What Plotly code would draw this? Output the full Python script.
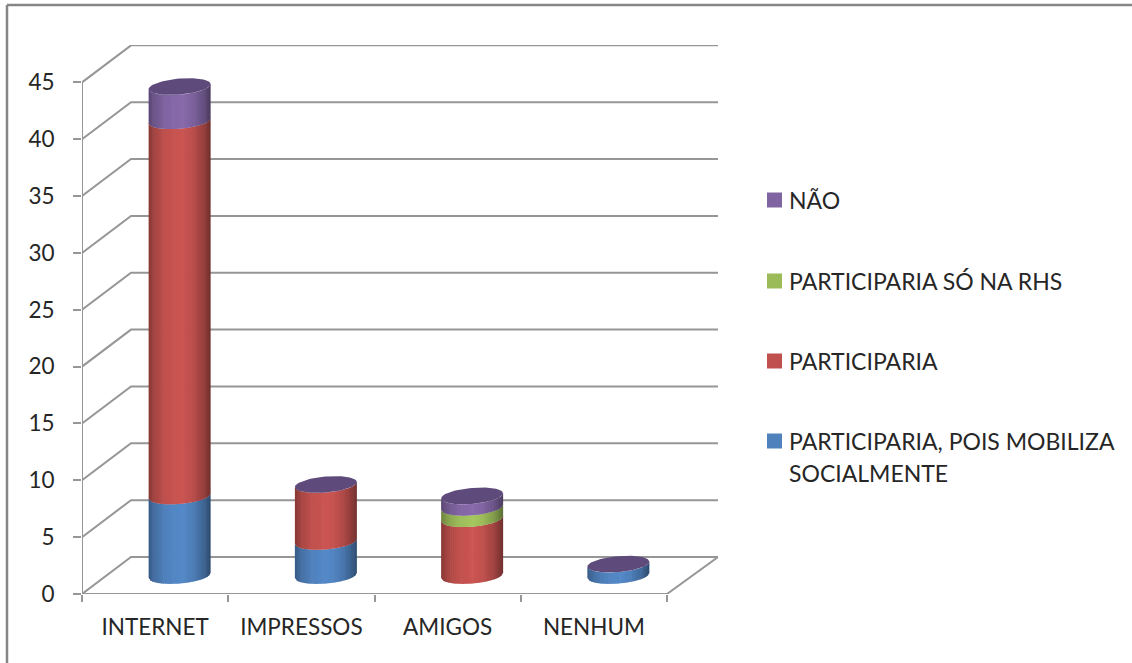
import math
import plotly.graph_objects as go

# Source data: stacked values per category, bottom series first
categories = ["INTERNET", "IMPRESSOS", "AMIGOS", "NENHUM"]
mobiliza = [7, 3, 0, 1]
participaria = [33, 5, 5, 0]
so_na_rhs = [0, 0, 1, 0]
nao = [3, 0, 1, 0]
y_ticks = [0, 5, 10, 15, 20, 25, 30, 35, 40, 45]

series_names = [["PARTICIPARIA, POIS MOBILIZA", "SOCIALMENTE"], ["PARTICIPARIA"],
                ["PARTICIPARIA SÓ NA RHS"], ["NÃO"]]
series_values = [mobiliza, participaria, so_na_rhs, nao]
series_colors = ["#4F81BD", "#C0504D", "#9BBB59", "#8064A2"]
cap_color = "#5F4A7C"
grid_color = "#969696"
text_color = "#262626"
font_family = "Lato"

W, H = 1132, 663

# Pixel frame of the pseudo-3D box
LEFT, BOTTOM = 82, 594
BACK_X, TOP = 718, 45
PX_CAT, PX_UNIT = 146.25, 11.37
DX = 49 / PX_CAT      # depth offset in category units
DY = 37 / PX_UNIT     # depth offset in value units
x_max = (BACK_X - LEFT) / PX_CAT
y_max = (BOTTOM - TOP) / PX_UNIT
n_cat = len(categories)

# Cylinder proportions in axis units
RX = 31 / PX_CAT
RY = 8 / PX_UNIT
SKEW = 2.5 / PX_UNIT
STRIPS = 34

# Legend block layout, in page pixels, bottom entry first
LEGEND_SWATCH_X = (767, 782)
LEGEND_TEXT_X = 789
LEGEND_ROWS = [441, 361, 281, 200]
LEGEND_LINE_STEP = 32
LEGEND_SWATCH_HALF = 7.5


def shade(hex_color, k):
    r, g, b = (int(hex_color[i:i + 2], 16) for i in (1, 3, 5))
    return "rgb({},{},{})".format(*(min(255, round(c * k)) for c in (r, g, b)))


def brightness(u):
    # Rounded-surface shading across the cylinder, u runs from -1 to 1
    stops = [(-1, 0.70), (-0.8, 0.86), (-0.45, 1.0), (0.05, 1.06),
             (0.4, 0.98), (0.75, 0.80), (1, 0.58)]
    for (u0, k0), (u1, k1) in zip(stops, stops[1:]):
        if u <= u1:
            return k0 + (k1 - k0) * (u - u0) / (u1 - u0)
    return stops[-1][1]


def front_arc(value, u):
    return value - RY * math.sqrt(max(0, 1 - u * u)) + SKEW * u


fig = go.Figure()


def add_line(xs, ys):
    fig.add_trace(go.Scatter(x=xs, y=ys, mode="lines", showlegend=False, hoverinfo="skip",
                             line=dict(color=grid_color, width=2)))


# Gridlines: up the side wall, then across the back wall
for v in y_ticks:
    add_line([0, DX, x_max], [v, v + DY, v + DY])
# Floor edges and the vertical axis
add_line([0, n_cat, x_max], [0, 0, DY])
add_line([0, 0], [0, y_ticks[-1]])

# Stacked cylinders
for i in range(n_cat):
    cx = i + 0.5 + DX / 2
    base = DY / 2
    level = base
    for values, color in zip(series_values, series_colors):
        v = values[i]
        if v <= 0:
            continue
        top = level + v
        for s in range(STRIPS):
            u0 = -1 + 2 * s / STRIPS
            u1 = -1 + 2 * (s + 1) / STRIPS
            u_next = min(1, u1 + 0.02)
            xs = [cx + RX * u0, cx + RX * u_next, cx + RX * u_next, cx + RX * u0, cx + RX * u0]
            ys = [front_arc(level, u0), front_arc(level, u_next),
                  front_arc(top, u_next), front_arc(top, u0), front_arc(level, u0)]
            fig.add_trace(go.Scatter(x=xs, y=ys, mode="lines", fill="toself", showlegend=False,
                                     hoverinfo="skip", line=dict(width=0),
                                     fillcolor=shade(color, brightness((u0 + u1) / 2))))
        level = top
    # Top cap closes each stack in the last series' dark tone
    angles = [2 * math.pi * a / 72 for a in range(73)]
    fig.add_trace(go.Scatter(x=[cx + RX * math.cos(a) for a in angles],
                             y=[level + RY * math.sin(a) + SKEW * math.cos(a) for a in angles],
                             mode="lines", fill="toself", showlegend=False, hoverinfo="skip",
                             line=dict(width=0), fillcolor=cap_color))

# Side legend: swatch on the first text line, wrapped names stepping downward
legend_shapes = []
legend_notes = []
for lines, color, row in zip(series_names, series_colors, LEGEND_ROWS):
    legend_shapes.append(dict(
        type="rect", xref="paper", yref="paper",
        x0=LEGEND_SWATCH_X[0] / W, x1=LEGEND_SWATCH_X[1] / W,
        y0=(H - row - LEGEND_SWATCH_HALF) / H, y1=(H - row + LEGEND_SWATCH_HALF) / H,
        fillcolor=color, line=dict(width=0)))
    for j, text in enumerate(lines):
        legend_notes.append(dict(
            text=text, xref="paper", yref="paper", showarrow=False, align="left",
            x=LEGEND_TEXT_X / W, xanchor="left",
            y=(H - row - j * LEGEND_LINE_STEP) / H, yanchor="middle",
            xshift=-1, borderpad=0, font=dict(size=23, color=text_color)))

fig.update_layout(
    width=W, height=H,
    margin=dict(l=0, r=0, t=0, b=0),
    paper_bgcolor="white", plot_bgcolor="white", showlegend=False,
    font=dict(family=font_family, size=22.5, color=text_color),
    xaxis=dict(domain=[LEFT / W, BACK_X / W], range=[0, x_max], showgrid=False, zeroline=False,
               showline=False, automargin=False, tickmode="array",
               tickvals=[i + 0.5 for i in range(n_cat)], ticktext=categories,
               ticks="outside", ticklen=0, ticklabelstandoff=13,
               minor=dict(tickmode="array", tickvals=list(range(n_cat + 1)), ticks="outside",
                          ticklen=7, tickwidth=2, tickcolor=grid_color, showgrid=False)),
    yaxis=dict(domain=[(H - BOTTOM) / H, (H - TOP) / H], range=[0, y_max], showgrid=False,
               zeroline=False, showline=False, automargin=False, tickmode="array", tickvals=y_ticks,
               ticks="outside", ticklen=8, tickwidth=2, tickcolor=grid_color,
               ticklabelstandoff=14),
    annotations=legend_notes,
    shapes=[
        dict(type="line", xref="paper", yref="paper", x0=7 / W, x1=7 / W, y0=0, y1=(H - 5) / H,
             line=dict(color="#868686", width=2.5)),
        dict(type="line", xref="paper", yref="paper", x0=7 / W, x1=1, y0=(H - 5) / H, y1=(H - 5) / H,
             line=dict(color="#868686", width=2.5)),
    ] + legend_shapes,
)

fig.write_html("out.html")
